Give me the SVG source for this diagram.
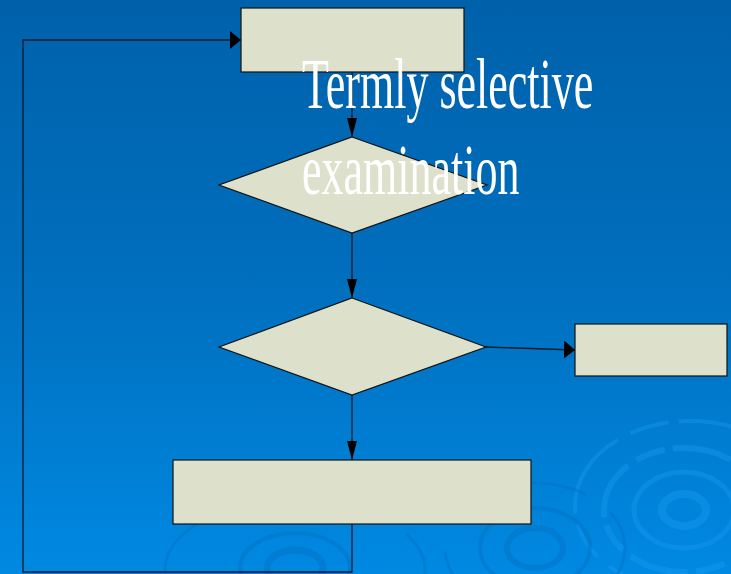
<svg xmlns="http://www.w3.org/2000/svg" width="731" height="574" viewBox="0 0 731 574">
<defs>
<linearGradient id="bg" x1="0" y1="0" x2="0" y2="1">
<stop offset="0" stop-color="#0061ab"/>
<stop offset="0.5" stop-color="#006fbe"/>
<stop offset="1" stop-color="#0089e2"/>
</linearGradient>
<marker id="ahH" viewBox="0 0 10 10" refX="10" refY="5" markerWidth="11" markerHeight="18" markerUnits="userSpaceOnUse" orient="auto" preserveAspectRatio="none">
<path d="M0,0 L10,5 L0,10 z" fill="#000"/>
</marker>
<marker id="ahV" viewBox="0 0 10 10" refX="10" refY="5" markerWidth="19" markerHeight="10" markerUnits="userSpaceOnUse" orient="auto" preserveAspectRatio="none">
<path d="M0,0 L10,5 L0,10 z" fill="#000"/>
</marker>
</defs>
<style>
.node{fill:#dde0cb;stroke:#111;stroke-width:1.2}
.conn{fill:none;stroke:#0a1a2a;stroke-width:1.3}
.ring{fill:none;stroke:#1a9af0;stroke-opacity:0.4}
.ringd{fill:none;stroke:#0070c4;stroke-opacity:0.45}
.label{font-family:"Liberation Serif","Times New Roman",serif;font-size:44px;fill:#fff}
</style>
<rect x="0" y="0" width="731" height="574" fill="url(#bg)"/>
<g id="ripples">
<ellipse class="ring" cx="684" cy="510" rx="22" ry="16" stroke-width="8"/>
<ellipse class="ring" cx="684" cy="510" rx="50" ry="38" stroke-width="5"/>
<ellipse class="ring" cx="684" cy="510" rx="80" ry="62" stroke-width="6" stroke-dasharray="60 10 30 8"/>
<ellipse class="ring" cx="690" cy="506" rx="115" ry="85" stroke-width="4" stroke-dasharray="90 14 40 10"/>
<ellipse class="ringd" cx="295" cy="568" rx="28" ry="18" stroke-width="7"/>
<ellipse class="ringd" cx="295" cy="568" rx="55" ry="35" stroke-width="4"/>
<ellipse class="ringd" cx="295" cy="570" rx="130" ry="70" stroke-width="3" stroke-dasharray="80 20"/>
<ellipse class="ringd" cx="535" cy="548" rx="28" ry="20" stroke-width="6"/>
<ellipse class="ringd" cx="535" cy="548" rx="55" ry="40" stroke-width="4"/>
<ellipse class="ringd" cx="535" cy="548" rx="90" ry="65" stroke-width="3" stroke-dasharray="60 30"/>
</g>
<g id="connectors">
<path class="conn" d="M352,72 V137" marker-end="url(#ahV)"/>
<path class="conn" d="M352,233 V298" marker-end="url(#ahV)"/>
<path class="conn" d="M486,347 L575,350" marker-end="url(#ahH)"/>
<path class="conn" d="M352,395 V460" marker-end="url(#ahV)"/>
<path class="conn" d="M352,524 V572 H23 V40 H241" marker-end="url(#ahH)"/>
</g>
<g id="n1"><rect class="node" x="241" y="8" width="223" height="64"/></g>
<g id="n2"><polygon class="node" points="352,137 487,185 352,233 219,185"/></g>
<g id="n3"><polygon class="node" points="352,298 486,347 352,395 219,347"/></g>
<g id="n4"><rect class="node" x="575" y="324" width="152" height="52"/></g>
<g id="n5"><rect class="node" x="173" y="460" width="358" height="64"/></g>
<g id="title">
<text class="label" transform="translate(302,108) scale(1,1.64)">Termly selective</text>
<text class="label" transform="translate(302,194) scale(1,1.64)">examination</text>
</g>
</svg>
